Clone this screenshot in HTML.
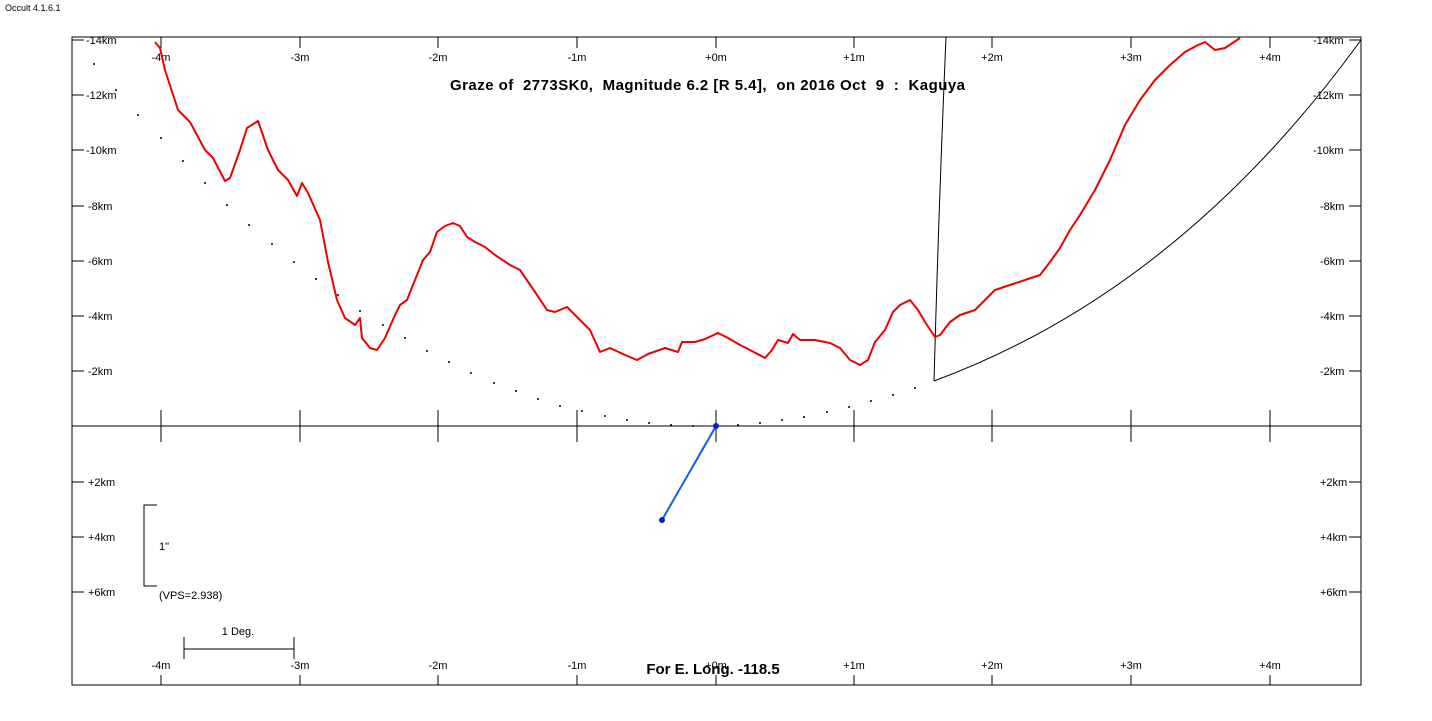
<!DOCTYPE html>
<html><head><meta charset="utf-8"><style>
body{margin:0;background:#fff;}
svg{display:block;font-family:"Liberation Sans",Arial,sans-serif;}
</style></head><body>
<svg width="1432" height="721" viewBox="0 0 1432 721" xmlns="http://www.w3.org/2000/svg">
<rect width="1432" height="721" fill="#fff"/>
<text x="5" y="11" font-size="9">Occult 4.1.6.1</text>
<rect x="72" y="37" width="1289" height="648" fill="none" stroke="#000" stroke-width="1"/>
<line x1="72" y1="426" x2="1361" y2="426" stroke="#000"/>
<g stroke="#000" stroke-width="1" fill="none">
<path d="M161 410V442M300 410V442M438 410V442M577 410V442M716 410V442M854 410V442M992 410V442M1131 410V442M1270 410V442"/>
<path d="M161 37V48M300 37V48M438 37V48M577 37V48M716 37V48M854 37V48M992 37V48M1131 37V48M1270 37V48"/>
<path d="M161 675V685M300 675V685M438 675V685M577 675V685M716 675V685M854 675V685M992 675V685M1131 675V685M1270 675V685"/>
<path d="M72 40H84M72 95H84M72 150H84M72 206H84M72 261H84M72 316H84M72 371H84M72 482H84M72 537H84M72 592H84"/>
<path d="M1349 40H1361M1349 95H1361M1349 150H1361M1349 206H1361M1349 261H1361M1349 316H1361M1349 371H1361M1349 482H1361M1349 537H1361M1349 592H1361"/>
<path d="M157 505H144V586H157"/>
<path d="M184 637V659M294 637V659M184 649H294"/>
</g>
<g font-size="11" fill="#000">
<text x="86" y="44">-14km</text><text x="86" y="99">-12km</text><text x="86" y="154">-10km</text>
<text x="88" y="210">-8km</text><text x="88" y="265">-6km</text><text x="88" y="320">-4km</text><text x="88" y="375">-2km</text>
<text x="88" y="486">+2km</text><text x="88" y="541">+4km</text><text x="88" y="596">+6km</text>
<text x="1313" y="44">-14km</text><text x="1313" y="99">-12km</text><text x="1313" y="154">-10km</text>
<text x="1320" y="210">-8km</text><text x="1320" y="265">-6km</text><text x="1320" y="320">-4km</text><text x="1320" y="375">-2km</text>
<text x="1320" y="486">+2km</text><text x="1320" y="541">+4km</text><text x="1320" y="596">+6km</text>
<g text-anchor="middle">
<text x="161" y="61">-4m</text><text x="300" y="61">-3m</text><text x="438" y="61">-2m</text><text x="577" y="61">-1m</text><text x="716" y="61">+0m</text><text x="854" y="61">+1m</text><text x="992" y="61">+2m</text><text x="1131" y="61">+3m</text><text x="1270" y="61">+4m</text>
<text x="161" y="669">-4m</text><text x="300" y="669">-3m</text><text x="438" y="669">-2m</text><text x="577" y="669">-1m</text><text x="716" y="669">+0m</text><text x="854" y="669">+1m</text><text x="992" y="669">+2m</text><text x="1131" y="669">+3m</text><text x="1270" y="669">+4m</text>
<text x="238" y="635">1 Deg.</text>
</g>
<text x="159" y="550">1"</text>
<text x="159" y="599">(VPS=2.938)</text>
</g>
<text x="450" y="90" font-size="15" font-weight="bold" textLength="515" lengthAdjust="spacing" xml:space="preserve" style="white-space:pre">Graze of  2773SK0,  Magnitude 6.2 [R 5.4],  on 2016 Oct  9  :  Kaguya</text>
<g fill="#000">
<circle cx="94" cy="64" r="1"/><circle cx="116" cy="90" r="1"/><circle cx="138" cy="115" r="1"/><circle cx="161" cy="138" r="1"/><circle cx="183" cy="161" r="1"/><circle cx="205" cy="183" r="1"/><circle cx="227" cy="205" r="1"/><circle cx="249" cy="225" r="1"/><circle cx="272" cy="244" r="1"/><circle cx="294" cy="262" r="1"/><circle cx="316" cy="279" r="1"/><circle cx="338" cy="295" r="1"/><circle cx="360" cy="311" r="1"/><circle cx="383" cy="325" r="1"/><circle cx="405" cy="338" r="1"/><circle cx="427" cy="351" r="1"/><circle cx="449" cy="362" r="1"/><circle cx="471" cy="373" r="1"/><circle cx="494" cy="383" r="1"/><circle cx="516" cy="391" r="1"/><circle cx="538" cy="399" r="1"/><circle cx="560" cy="406" r="1"/><circle cx="582" cy="411" r="1"/><circle cx="605" cy="416" r="1"/><circle cx="627" cy="420" r="1"/><circle cx="649" cy="423" r="1"/><circle cx="671" cy="425" r="1"/><circle cx="693" cy="426" r="1"/><circle cx="738" cy="425" r="1"/><circle cx="760" cy="423" r="1"/><circle cx="782" cy="420" r="1"/><circle cx="804" cy="417" r="1"/><circle cx="827" cy="412" r="1"/><circle cx="849" cy="407" r="1"/><circle cx="871" cy="401" r="1"/><circle cx="893" cy="395" r="1"/><circle cx="915" cy="388" r="1"/>
</g>
<path d="M946 37 Q939 200 934 381" fill="none" stroke="#000"/>
<path d="M934 381 Q1180 290 1361 40" fill="none" stroke="#000"/>
<polyline fill="none" stroke="#e00" stroke-width="2" stroke-linejoin="round" points="155,42 160,48 165,70 178,110 190,122 205,150 213,158 225,181 230,178 240,150 247,128 258,121 268,150 278,170 288,180 297,196 302,183 308,193 320,220 328,262 337,300 345,318 355,325 360,318 362,338 370,348 377,350 385,338 395,315 400,305 407,300 415,280 423,260 430,252 437,232 445,226 453,223 460,226 467,237 475,242 485,247 495,255 510,265 520,270 535,292 547,310 555,312 567,307 580,320 590,330 600,352 610,348 625,355 637,360 648,354 665,348 678,352 682,342 695,342 705,339 718,333 728,338 740,345 750,350 765,358 772,350 778,340 788,343 793,334 800,340 815,340 830,343 840,348 850,360 860,365 868,360 875,342 885,330 893,312 900,305 910,300 918,310 925,322 935,337 940,335 950,322 960,315 975,310 985,300 995,290 1010,285 1025,280 1040,275 1050,262 1060,248 1070,230 1080,215 1095,190 1110,160 1125,125 1140,100 1155,80 1170,65 1185,52 1198,45 1205,42 1215,50 1225,48 1240,38"/>
<line x1="716" y1="426" x2="662" y2="520" stroke="#1060e0" stroke-width="2"/>
<circle cx="716" cy="426" r="3" fill="#0020d0"/>
<circle cx="662" cy="520" r="3" fill="#0020d0"/>
<text x="713" y="674" font-size="15" font-weight="bold" text-anchor="middle">For E. Long. -118.5</text>
</svg>
</body></html>
